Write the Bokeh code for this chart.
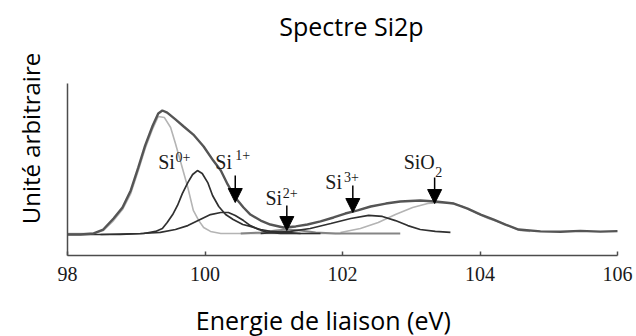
import math
from bokeh.plotting import figure
from bokeh.models import ColumnDataSource, Arrow, NormalHead, Label, FixedTicker, Range1d
from bokeh.core.properties import value
from bokeh.embed import file_html
from bokeh.resources import INLINE

# ---- data (binding energy in eV, intensity in arbitrary units) ----
x_ticks = [98, 100, 102, 104, 106]

# measured spectrum (envelope)
env_x = [98.00, 98.19, 98.38, 98.52, 98.67, 98.80, 98.92, 99.03, 99.13, 99.24, 99.32, 99.38,
         99.45, 99.57, 99.69, 99.83, 99.98, 100.12, 100.23, 100.33, 100.44, 100.56, 100.66,
         100.81, 100.95, 101.14, 101.32, 101.49, 101.68, 101.87, 102.04, 102.22, 102.41,
         102.63, 102.84, 103.13, 103.35, 103.62, 103.82, 104.01, 104.20, 104.37, 104.56,
         104.88, 105.17, 105.46, 105.75, 106.00]
env_y = [12.2, 12.2, 12.8, 15.1, 21.5, 27.9, 37.8, 51.2, 64.0, 75.6, 82.6, 84.3,
         83.1, 79.1, 75.0, 70.3, 63.4, 55.2, 49.4, 41.3, 33.7, 27.9, 23.8,
         20.3, 18.0, 16.3, 16.9, 18.0, 19.8, 22.1, 24.4, 26.2, 28.5,
         30.2, 31.4, 32.0, 31.4, 30.2, 27.3, 23.8, 20.9, 18.0, 15.1,
         14.0, 13.8, 14.3, 13.9, 14.2]

# Si 2p components
si0a_x = [98.00, 98.38, 98.52, 98.67, 98.80, 98.92, 99.03, 99.13, 99.24, 99.32, 99.41,
          99.50, 99.57, 99.64, 99.75, 99.83, 99.91, 99.98, 100.08, 100.23, 100.52, 101.97]
si0a_y = [12.8, 12.8, 14.5, 20.3, 26.7, 36.0, 49.4, 62.2, 73.8, 80.8, 80.2,
          74.4, 65.1, 55.2, 39.5, 26.2, 20.3, 16.3, 14.0, 12.8, 12.8, 12.8]

si0b_x = [98.00, 98.77, 99.11, 99.28, 99.38, 99.45, 99.53, 99.60, 99.67, 99.75, 99.82, 99.89,
          99.96, 100.04, 100.11, 100.20, 100.30, 100.41, 100.55, 100.66, 100.81, 100.95,
          101.17, 101.39]
si0b_y = [12.2, 12.2, 12.8, 14.0, 15.7, 19.2, 23.8, 29.1, 36.0, 42.4, 47.1, 49.4,
          47.7, 42.4, 34.9, 28.5, 23.8, 20.9, 18.0, 16.9, 15.1, 14.0,
          13.4, 12.8]

si1_x = [98.48, 99.06, 99.35, 99.57, 99.75, 99.93, 100.08, 100.23, 100.34, 100.44, 100.56,
         100.66, 100.78, 100.91, 101.10, 101.68]
si1_y = [12.2, 12.8, 13.4, 15.1, 17.4, 20.9, 23.8, 25.0, 25.0, 23.3, 20.3,
         17.4, 15.1, 13.4, 12.8, 12.8]

si2_x = [100.52, 100.81, 101.03, 101.20, 101.39, 101.61, 101.90, 102.84]
si2_y = [12.8, 13.4, 14.5, 15.1, 14.5, 13.4, 12.8, 12.8]

si3_x = [100.81, 101.24, 101.53, 101.83, 102.12, 102.38, 102.58, 102.77, 102.95, 103.13,
         103.35, 103.57]
si3_y = [12.8, 14.0, 15.7, 18.6, 21.5, 23.3, 22.7, 20.3, 17.4, 15.1,
         14.0, 13.4]

sio2_x = [101.97, 102.26, 102.52, 102.77, 103.02, 103.24, 103.43, 103.60, 103.75, 103.93,
          104.12, 104.30, 104.44, 104.59, 104.73]
sio2_y = [13.4, 15.7, 19.2, 23.8, 27.9, 30.2, 30.8, 30.2, 28.5, 25.0,
          21.5, 19.2, 16.9, 14.5, 14.0]

# peak labels: base text + superscript / subscript
label_text = ["Si", "Si", "Si", "Si", "SiO"]
label_x = [99.32, 100.15, 100.88, 101.75, 102.89]
label_y = [54.1, 54.1, 33.7, 43.0, 54.1]

sup_text = ["0+", "1+", "2+", "3+"]
sup_x = [99.57, 100.44, 101.13, 102.02]
sup_y = [57.5, 58.7, 36.6, 45.9]

sub_text = ["2"]
sub_x = [103.35]
sub_y = [48.8]

arrow_x = [100.44, 101.19, 102.15, 103.34]
arrow_y_start = [46.5, 29.1, 40.7, 45.3]
arrow_y_end = [30.8, 14.5, 25.0, 30.2]

# ---- layout: frame fills the canvas, axes drawn at fixed data locations ----
W, H = 636, 336
PX_X0, PX_PER_EV = 67.0, 68.75      # pixel of 98 eV, pixels per eV
PX_Y0, PX_PER_U = 255.0, 1.72       # pixel of intensity 0, pixels per unit
x0 = 98 - PX_X0 / PX_PER_EV
x1 = 98 + (W - PX_X0) / PX_PER_EV
y0 = -(H - PX_Y0) / PX_PER_U
y1 = PX_Y0 / PX_PER_U

p = figure(width=W, height=H, x_range=Range1d(x0, x1), y_range=Range1d(y0, y1),
           output_backend="svg", toolbar_location=None, title=None,
           min_border_left=0, min_border_right=0, min_border_top=0, min_border_bottom=0)
p.outline_line_color = None
p.xgrid.visible = False
p.ygrid.visible = False
p.background_fill_color = "white"
p.border_fill_color = "white"

AX = "#4d4d4d"
p.xaxis.fixed_location = 0
p.xaxis.bounds = (98, 106)
p.xaxis.ticker = FixedTicker(ticks=x_ticks)
p.xaxis.axis_line_color = AX
p.xaxis.axis_line_width = 1.5
p.xaxis.major_tick_line_color = AX
p.xaxis.major_tick_line_width = 1.5
p.xaxis.major_tick_in = 4
p.xaxis.major_tick_out = 0
p.xaxis.minor_tick_line_color = None
p.xaxis.major_label_text_font = "Liberation Serif"
p.xaxis.major_label_text_font_size = "20px"
p.xaxis.major_label_text_color = "#1a1a1a"
p.xaxis.major_label_standoff = 11

p.yaxis.fixed_location = 98
p.yaxis.bounds = (0, 100)
p.yaxis.ticker = FixedTicker(ticks=[])
p.yaxis.axis_line_color = AX
p.yaxis.axis_line_width = 1.5
p.yaxis.major_tick_line_color = None
p.yaxis.minor_tick_line_color = None

LIGHT = "#b4b4b4"
DARK = "#303030"
p.line(si0a_x, si0a_y, line_color=LIGHT, line_width=1.6)
p.line(sio2_x, sio2_y, line_color=LIGHT, line_width=1.6)
p.line(si2_x, si2_y, line_color="#858585", line_width=2)
p.line(si0b_x, si0b_y, line_color=DARK, line_width=1.7)
p.line(si1_x, si1_y, line_color=DARK, line_width=1.7)
p.line(si3_x, si3_y, line_color=DARK, line_width=1.7)
p.line(env_x, env_y, line_color="#555555", line_width=2.4)

SERIF = value("Liberation Serif")
TXT = "#1a1a1a"
p.text(x="x", y="y", text="t", source=ColumnDataSource(dict(x=label_x, y=label_y, t=label_text)),
       text_font=SERIF, text_font_size="20px", text_color=TXT, text_align="left",
       text_baseline="alphabetic")
p.text(x="x", y="y", text="t", source=ColumnDataSource(dict(x=sup_x, y=sup_y, t=sup_text)),
       text_font=SERIF, text_font_size="14px", text_color=TXT, text_align="left",
       text_baseline="alphabetic")
p.text(x="x", y="y", text="t", source=ColumnDataSource(dict(x=sub_x, y=sub_y, t=sub_text)),
       text_font=SERIF, text_font_size="14px", text_color=TXT, text_align="left",
       text_baseline="alphabetic")

arr_src = ColumnDataSource(dict(x=arrow_x, y0=arrow_y_start, y1=arrow_y_end))
p.add_layout(Arrow(end=NormalHead(size=14, fill_color="black", line_color="black"),
                   x_start="x", y_start="y0", x_end="x", y_end="y1", source=arr_src,
                   line_color="black", line_width=1.5))

p.add_layout(Label(x=102.13, y=133.7, text="Spectre Si2p", text_font="Open Sans",
                   text_font_size="25px", text_align="center", text_baseline="alphabetic",
                   text_color="black"))
p.add_layout(Label(x=101.72, y=-37.7, text="Energie de liaison (eV)", text_font="Open Sans",
                   text_font_size="25px", text_align="center", text_baseline="alphabetic",
                   text_color="black"))
p.add_layout(Label(x=97.46, y=68.0, angle=math.pi / 2, text="Unité arbitraire",
                   text_font="Open Sans", text_font_size="24px", text_align="center",
                   text_baseline="alphabetic", text_color="black"))

open("out.html", "w").write(file_html(p, INLINE))
